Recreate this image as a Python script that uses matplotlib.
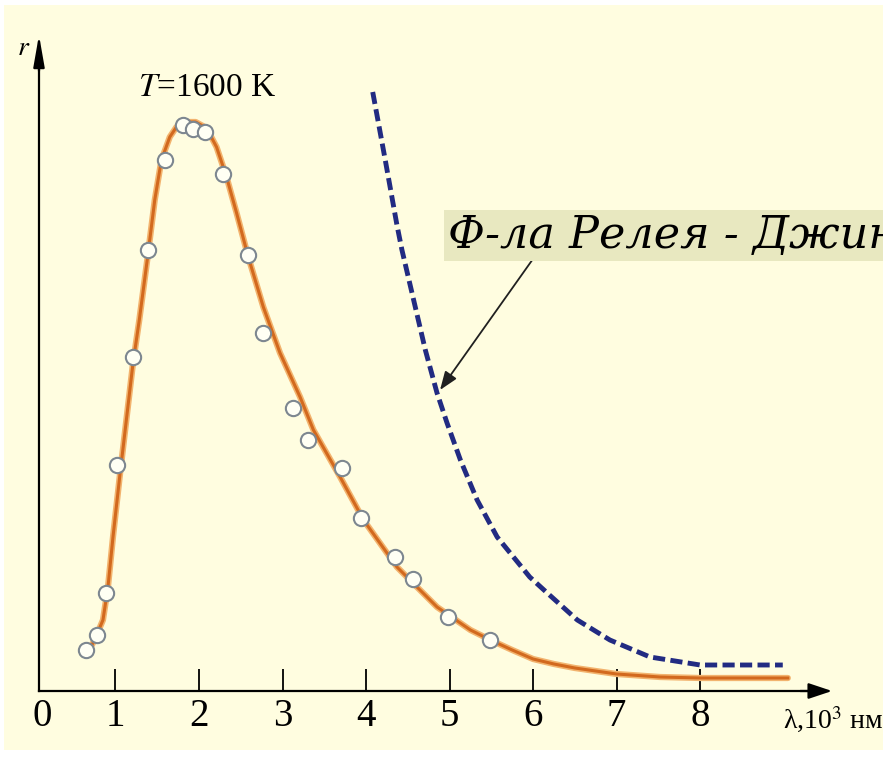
import matplotlib
matplotlib.use("Agg")
import matplotlib.pyplot as plt

# measured points (circles): lambda in 10^3 nm, r in arbitrary units
lam_pts = [0.65, 0.78, 0.89, 1.02, 1.21, 1.39, 1.59, 1.81, 1.93, 2.07, 2.29,
           2.59, 2.77, 3.13, 3.31, 3.71, 3.94, 4.35, 4.56, 4.98, 5.49]
r_pts = [4.1, 5.6, 9.8, 22.6, 33.4, 44.1, 53.1, 56.6, 56.2, 55.9, 51.7,
         43.6, 35.8, 28.3, 25.1, 22.3, 17.3, 13.4, 11.2, 7.4, 5.1]

# Planck curve, T = 1600 K
lam_planck = [0.67, 0.75, 0.85, 0.91, 0.97, 1.05, 1.13, 1.21, 1.285, 1.38,
              1.47, 1.55, 1.65, 1.73, 1.85, 1.96, 2.09, 2.21, 2.33, 2.45,
              2.59, 2.77, 2.97, 3.21, 3.37, 3.69, 3.97, 4.37, 4.85, 5.25,
              5.49, 5.75, 6.0, 6.25, 6.5, 7.0, 7.52, 8.0, 9.05]
r_planck = [3.9, 5.1, 7.1, 10.4, 15.4, 21.4, 27.1, 32.8, 37.1, 43.1,
            49.1, 53.1, 55.4, 56.4, 56.9, 56.9, 56.3, 54.4, 51.4, 47.8,
            43.4, 38.4, 33.8, 29.4, 26.1, 21.4, 17.1, 12.4, 8.4, 6.1,
            5.1, 4.1, 3.2, 2.7, 2.3, 1.7, 1.4, 1.3, 1.3]

# Rayleigh-Jeans formula
lam_rj = [4.08, 4.23, 4.37, 4.43, 4.57, 4.71, 4.85, 4.97, 5.13, 5.33,
          5.57, 5.96, 6.17, 6.53, 6.92, 7.40, 8.00, 8.99]
r_rj = [59.9, 53.1, 46.6, 44.1, 39.1, 34.1, 29.8, 26.8, 23.1, 19.1,
        15.4, 11.4, 9.8, 7.1, 5.1, 3.4, 2.6, 2.6]

xtick_vals = [0.12, 1, 2, 3, 4, 5, 6, 7, 8]
xtick_labels = ['0', '1', '2', '3', '4', '5', '6', '7', '8']

plt.rcParams['mathtext.fontset'] = 'stix'
serif = ['Liberation Serif', 'DejaVu Serif']

bg = '#fffde0'
fig = plt.figure(figsize=(8.83, 7.57), dpi=100, facecolor='white')
ax = fig.add_axes([4 / 883, 7 / 757, 879 / 883, 745 / 757])
ax.set_facecolor(bg)
ax.set_xlim(-0.335, 10.19)
ax.set_ylim(-5.9, 68.6)

y0 = 0.084
for s in ['top', 'right']:
    ax.spines[s].set_visible(False)
ax.spines['bottom'].set_position(('data', 0))
ax.spines['bottom'].set_bounds(y0, 9.4)
ax.spines['left'].set_position(('data', y0))
ax.spines['left'].set_bounds(0, 63)
for s in ['bottom', 'left']:
    ax.spines[s].set_linewidth(1.6)

ax.set_yticks([])
ax.set_xticks(xtick_vals)
ax.set_xticklabels(xtick_labels, family=serif, fontsize=28)
ax.tick_params(axis='x', direction='in', length=16, width=1.3, pad=5)
ax.xaxis.get_major_ticks()[0].tick1line.set_visible(False)

# arrow heads on the axes
ax.annotate('', xy=(9.58, 0), xytext=(9.2, 0),
            arrowprops=dict(arrowstyle='-|>,head_length=1.2,head_width=0.4',
                            color='k', lw=1.6, mutation_scale=12,
                            shrinkA=0, shrinkB=0))
ax.annotate('', xy=(y0, 65.6), xytext=(y0, 62),
            arrowprops=dict(arrowstyle='-|>,head_length=1.6,head_width=0.28',
                            color='k', lw=1.6, mutation_scale=12,
                            shrinkA=0, shrinkB=0))

# curves
ax.plot(lam_planck, r_planck, color='#f2b36e', lw=4.5, solid_joinstyle='round',
        solid_capstyle='round', zorder=2)
ax.plot(lam_planck, r_planck, color='#d2691e', lw=2.2, solid_joinstyle='round',
        zorder=3)
ax.plot(lam_pts, r_pts, 'o', ms=11, mfc='#fffff4', mec='#7d8790', mew=1.5,
        zorder=4)
ax.plot(lam_rj, r_rj, color='#222b82', lw=3.5, dashes=(2.5, 1.1), zorder=3)

# labels
ax.text(8.99, -2.9, 'λ,10$^{3}$ нм', family=serif,
        fontsize=20, ha='left', va='center')
ax.text(-0.1, 64.4, '$r$', fontsize=20, ha='center', va='center')
ax.text(1.27, 60.3, '$T$=1600 K', family=serif,
        fontsize=24, ha='left', va='center')

ax.annotate('', xy=(4.886, 30.1), xytext=(5.99, 43.1),
            arrowprops=dict(arrowstyle='-|>,head_length=0.8,head_width=0.3',
                            color='#202020', lw=1.3, mutation_scale=14,
                            shrinkA=0, shrinkB=0))
ax.text(4.98, 44.3, 'Ф-ла Релея - Джинса', family=['DejaVu Serif'],
        style='italic', fontsize=32, ha='left', va='baseline', zorder=5,
        bbox=dict(boxstyle='square,pad=0.08', fc='#e8e8c0', ec='none'))

fig.savefig('out.png', dpi=100, facecolor='white')
